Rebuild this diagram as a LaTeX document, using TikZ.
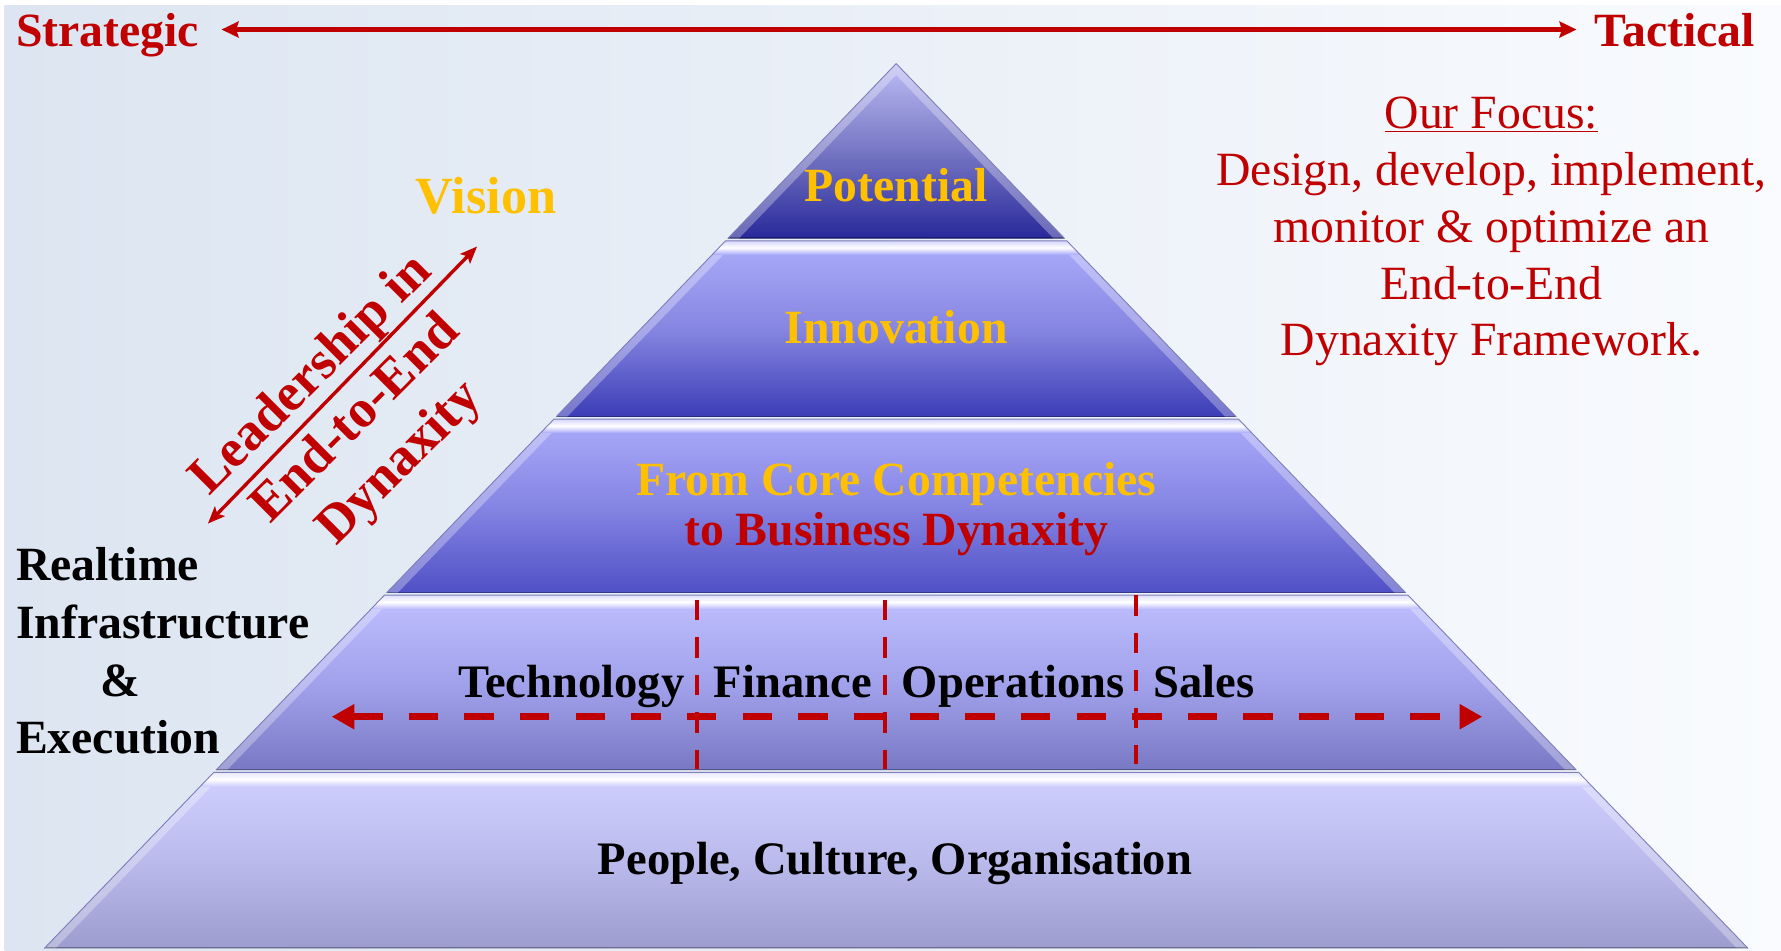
\documentclass[tikz,border=0pt]{standalone}
\usepackage{fontspec}
\setmainfont{Liberation Serif}
\usetikzlibrary{arrows.meta}

\definecolor{darkred}{HTML}{C00000}
\definecolor{gold}{HTML}{FFC000}
\definecolor{bgleft}{HTML}{DCE5F1}
\definecolor{bgright}{HTML}{F9FBFE}
\definecolor{rimcol}{HTML}{7E7EB8}
\definecolor{topA}{HTML}{BCBCF4}\definecolor{midA}{HTML}{7676C4}\definecolor{botA}{HTML}{28289A}
\definecolor{topB}{HTML}{ACACFB}\definecolor{midB}{HTML}{8686E2}\definecolor{botB}{HTML}{3C3CB6}
\definecolor{topC}{HTML}{ABABFA}\definecolor{midC}{HTML}{8585E4}\definecolor{botC}{HTML}{5050C6}
\definecolor{topD}{HTML}{BEBEFF}\definecolor{midD}{HTML}{A2A2EC}\definecolor{botD}{HTML}{7878C4}
\definecolor{topE}{HTML}{D0D0FF}\definecolor{midE}{HTML}{BABAEC}\definecolor{botE}{HTML}{9C9CCE}

\begin{document}
\begin{tikzpicture}[x=1pt, y=-1pt,
    bigtext/.style={inner sep=0pt, font=\bfseries\fontsize{42}{51}\selectfont},
    layerlabel/.style={bigtext, text=gold, anchor=base},
    unitlabel/.style={inner sep=0pt, anchor=base, font=\bfseries\fontsize{41}{49}\selectfont},
    scalearrow/.style={draw=darkred, line width=5pt,
      {Stealth[length=15pt,width=14pt,inset=2pt]}-{Stealth[length=15pt,width=14pt,inset=2pt]}},
    leadarrow/.style={draw=darkred, line width=3pt,
      {Stealth[length=15pt,width=12pt,inset=3pt]}-{Stealth[length=15pt,width=12pt,inset=3pt]}},
    unitarrow/.style={draw=darkred, line width=6.5pt, dash pattern=on 26pt off 23pt,
      {Triangle[length=20pt,width=21pt]}-{Triangle[length=20pt,width=21pt]}},
    unitsplit/.style={draw=darkred, line width=3.5pt, dash pattern=on 18pt off 15pt},
    edgebevel/.style={white, opacity=.3, line width=14pt},
  ]
  \useasboundingbox (0,0) rectangle (1568,837);
  \fill[white] (0,0) rectangle (1568,837);
  \shade[left color=bgleft, right color=bgright] (4,5) rectangle (1568,837);

  % pyramid layers: top y / bottom y / colour set
  \foreach \yt/\yb/\l [count=\i] in {56/210/A, 212/367/B, 369/522/C, 524/678/D, 680/835/E}{
    \pgfmathsetmacro\wt{0.9628*(\yt-56)}
    \pgfmathsetmacro\wb{0.9628*(\yb-56)}
    \coordinate (tl) at (789-\wt,\yt);
    \coordinate (tr) at (789+\wt,\yt);
    \coordinate (br) at (789+\wb,\yb);
    \coordinate (bl) at (789-\wb,\yb);
    \shade[top color=top\l, bottom color=bot\l, middle color=mid\l] (tl) -- (tr) -- (br) -- (bl) -- cycle;
    \begin{scope}
      \clip (tl) -- (tr) -- (br) -- (bl) -- cycle;
      \draw[edgebevel] (tl) -- (bl) (tr) -- (br);
      \ifnum\i>1
        \shade[top color=top\l!50!white, bottom color=top\l, middle color=white]
          (789-\wb,\yt) rectangle (789+\wb,\yt+12);
      \fi
      \draw[black, opacity=.3, line width=2pt] (bl) -- (br);
    \end{scope}
    \draw[rimcol, line width=.8pt] (bl) -- (tl) -- (tr) -- (br);
  }

  \node[bigtext, text=darkred, anchor=base west] (strategic) at (14,41) {Strategic};
  \node[bigtext, text=darkred, anchor=base east] (tactical) at (1545,41) {Tactical};
  \coordinate (strategic tip) at (195,26);
  \coordinate (tactical tip) at (1388,26);
  \draw[scalearrow] (strategic tip) -- (tactical tip);

  \node[inner sep=0pt, text=darkred, align=center, font=\fontsize{42}{50}\selectfont] (focus) at (1313,204)
    {\underline{Our Focus:}\\Design, develop, implement,\\monitor \& optimize an\\End-to-End\\Dynaxity Framework.};

  \node[inner sep=0pt, anchor=base, text=gold, font=\bfseries\fontsize{46}{55}\selectfont] (vision) at (428,188) {Vision};
  \node[inner sep=0pt, text=darkred, align=center, rotate=45, font=\bfseries\fontsize{47}{55}\selectfont] (leadership)
    at (314,370) {Leadership in\\End-to-End\\Dynaxity};
  \coordinate (lead low) at (183,461);
  \coordinate (lead high) at (420,217);
  \draw[leadarrow] (lead low) -- (lead high);

  \node[bigtext, align=left, anchor=west] (realtime) at (14,573)
    {Realtime\\Infrastructure\\\hspace*{74pt}\&\\Execution};

  \node[layerlabel] (potential) at (789,177) {Potential};
  \node[layerlabel] (innovation) at (789,302) {Innovation};
  \node[inner sep=0pt, align=center, text=gold, font=\bfseries\fontsize{42}{44}\selectfont] (competencies) at (789,448)
    {From Core Competencies\\\textcolor{darkred}{to Business Dynaxity}};

  \foreach \x/\ys/\ye in {614/528/677, 779/528/677, 1000/524/673}
    \draw[unitsplit] (\x,\ys) -- (\x,\ye);
  \coordinate (units west) at (292,631);
  \coordinate (units east) at (1305,631);
  \draw[unitarrow] (units west) -- (units east);

  \node[unitlabel] (technology) at (503,614) {Technology};
  \node[unitlabel] (finance) at (698,614) {Finance};
  \node[unitlabel] (operations) at (892,614) {Operations};
  \node[unitlabel] (sales) at (1060,614) {Sales};
  \node[unitlabel] (people) at (788,770) {People, Culture, Organisation};
\end{tikzpicture}
\end{document}
